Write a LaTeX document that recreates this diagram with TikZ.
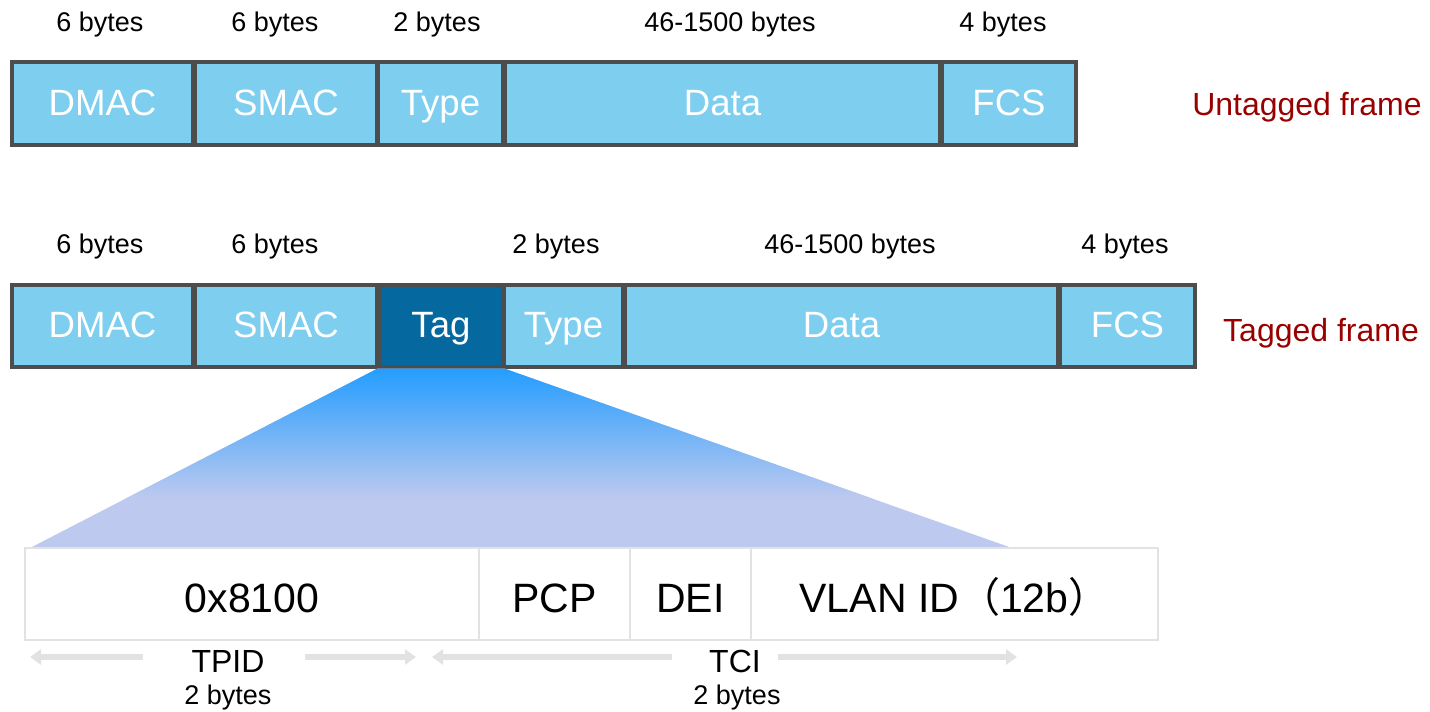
\documentclass[tikz,border=0pt]{standalone}
\usepackage{fontspec}
\setmainfont{Liberation Sans}
\newfontfamily\cjk{Noto Sans CJK SC}
\usetikzlibrary{arrows.meta}
\definecolor{fieldblue}{HTML}{7ECEF0}
\definecolor{tagblue}{HTML}{05689F}
\definecolor{edgegray}{HTML}{4D4D4D}
\definecolor{framered}{HTML}{990000}
\definecolor{fantop}{HTML}{229DFF}
\definecolor{fanbot}{HTML}{BDC9EF}
\definecolor{palegray}{HTML}{E2E2E2}

\begin{document}
\begin{tikzpicture}[x=.5pt,y=-.5pt,
  fieldbox/.style={draw=edgegray,fill=fieldblue,line width=1.6pt,inner sep=0pt,
    text height=13.2pt,text depth=1.6pt,
    text=white,font=\fontsize{18.3}{20}\selectfont},
  tagbox/.style={fieldbox,fill=tagblue},
  bytelab/.style={inner sep=0pt,text height=9.7pt,text depth=0pt,
    font=\fontsize{13.5}{15}\selectfont},
  framelab/.style={inner sep=0pt,text height=11.5pt,text depth=0pt,
    text=framered,font=\fontsize{16}{18}\selectfont},
  tagfield/.style={draw=palegray,fill=white,line width=1.2pt,inner sep=0pt,
    text height=18.8pt,text depth=0pt,
    minimum height=46pt,font=\fontsize{20.5}{22}\selectfont},
  sizelab/.style={inner sep=0pt,text height=11.5pt,text depth=0pt,
    font=\fontsize{16}{18}\selectfont},
  sizearrow/.style={draw=palegray,line width=3pt,
    -{Triangle[width=7.5pt,length=5.5pt]}}]
\useasboundingbox (0,0) rectangle (1430,712);

% untagged frame
\node[fieldbox,minimum width=90.5pt,minimum height=41.5pt] (dmac1) at (102.5,103.5) {DMAC};
\node[fieldbox,minimum width=91pt,minimum height=41.5pt] (smac1) at (286,103.5) {SMAC};
\node[fieldbox,minimum width=62.5pt,minimum height=41.5pt] (type1) at (440.5,103.5) {Type};
\node[fieldbox,minimum width=217.5pt,minimum height=41.5pt] (data1) at (722.5,103.5) {Data};
\node[fieldbox,minimum width=67pt,minimum height=41.5pt] (fcs1) at (1009,103.5) {FCS};
\node[bytelab] (b11) at (100,22) {6 bytes};
\node[bytelab] (b12) at (275,22) {6 bytes};
\node[bytelab] (b13) at (437,22) {2 bytes};
\node[bytelab] (b14) at (730,22) {46-1500 bytes};
\node[bytelab] (b15) at (1003,22) {4 bytes};
\node[framelab] (untagged) at (1307,104) {Untagged frame};

% tagged frame
\node[fieldbox,minimum width=90.5pt,minimum height=41pt] (dmac2) at (102.5,326) {DMAC};
\node[fieldbox,minimum width=91pt,minimum height=41pt] (smac2) at (286,326) {SMAC};
\node[tagbox,minimum width=62pt,minimum height=41pt] (tag) at (441,326) {Tag};
\node[fieldbox,minimum width=59.5pt,minimum height=41pt] (type2) at (563.5,326) {Type};
\node[fieldbox,minimum width=216.5pt,minimum height=41pt] (data2) at (841.5,326) {Data};
\node[fieldbox,minimum width=67.5pt,minimum height=41pt] (fcs2) at (1127.5,326) {FCS};
\node[bytelab] (b21) at (100,244) {6 bytes};
\node[bytelab] (b22) at (275,244) {6 bytes};
\node[bytelab] (b23) at (556,244) {2 bytes};
\node[bytelab] (b24) at (850,244) {46-1500 bytes};
\node[bytelab] (b25) at (1125,244) {4 bytes};
\node[framelab] (tagged) at (1321,330) {Tagged frame};

% fan from the tag down to its fields
\coordinate (fanl) at (30,548);
\coordinate (fanr) at (1012,548);
\fill[fanbot] (tag.south west) -- (tag.south east) -- (fanr) -- (fanl) -- cycle;
\begin{scope}
\clip (tag.south west) -- (tag.south east) -- (fanr) -- (fanl) -- cycle;
\shade[top color=fantop,bottom color=fanbot] (0,367) rectangle (1100,498);
\end{scope}

% tag fields
\node[tagfield,minimum width=227pt] (tpid) at (252,594) {0x8100};
\node[tagfield,minimum width=75.5pt] (pcp) at (554.5,594) {PCP};
\node[tagfield,minimum width=60.5pt] (dei) at (690.5,594) {DEI};
\node[tagfield,minimum width=203.5pt] (vid) at (954.5,594) {VLAN ID{\cjk （}12b{\cjk ）}};

% sizes
\node[sizelab] (tpidlab) at (228,661) {TPID};
\node[bytelab] (tpidsz) at (228,695) {2 bytes};
\node[sizelab] (tcilab) at (735,661) {TCI};
\node[bytelab] (tcisz) at (737,695) {2 bytes};
\coordinate (a1) at (143,657);
\coordinate (a1e) at (30,657);
\coordinate (a2) at (305,657);
\coordinate (a2e) at (416,657);
\coordinate (a3) at (672,657);
\coordinate (a3e) at (432,657);
\coordinate (a4) at (778,657);
\coordinate (a4e) at (1017,657);
\draw[sizearrow] (a1) -- (a1e);
\draw[sizearrow] (a2) -- (a2e);
\draw[sizearrow] (a3) -- (a3e);
\draw[sizearrow] (a4) -- (a4e);
\end{tikzpicture}
\end{document}
